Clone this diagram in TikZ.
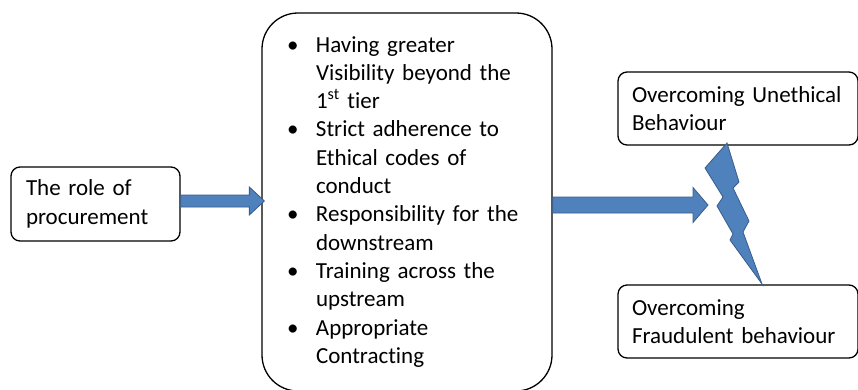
\documentclass[tikz,border=0pt]{standalone}
\usepackage{fontspec}
\setmainfont{Carlito}[Ligatures=NoCommon]
\usetikzlibrary{calc}
\definecolor{boxblue}{HTML}{4F81BD}
\definecolor{edgeblue}{HTML}{385D8A}

\begin{document}
\begin{tikzpicture}[x=1pt,y=-1pt,
  box/.style={draw, line width=1.3pt, rounded corners=9pt, align=left,
    font=\fontsize{23}{28.3}\selectfont},
  blockarrow/.style={fill=boxblue, draw=edgeblue, line width=0.8pt}]
\useasboundingbox (0,0) rectangle (858,389);
\clip (0,0) rectangle (858,389);

% Boxes
\node[box, minimum width=169pt, minimum height=74pt, text width=139pt, inner xsep=15pt] (role) at (95.5,204) {The role of\\procurement};
\node[box, rounded corners=36pt, minimum width=290pt, minimum height=378pt, text width=240pt, inner xsep=25pt] (list) at (407,202) {%
  \begin{tabular}{@{}p{29pt}@{}l@{}}
  \textbullet & Having greater\\
   & Visibility beyond the\\
   & 1\textsuperscript{st} tier\\
  \textbullet & Strict adherence to\\
   & Ethical codes of\\
   & conduct\\
  \textbullet & Responsibility for the\\
   & downstream\\
  \textbullet & Training across the\\
   & upstream\\
  \textbullet & Appropriate\\
   & Contracting
  \end{tabular}};
\node[box, minimum width=240pt, minimum height=73pt, text width=212pt, inner xsep=14pt] (unethical) at (738,108.5) {Overcoming Unethical\\Behaviour};
\node[box, minimum width=240pt, minimum height=73pt, text width=212pt, inner xsep=14pt] (fraud) at (738,321.5) {Overcoming\\Fraudulent behaviour};

% Block arrows
\coordinate (tipA) at ($(list.west |- role.east)+(3,-3)$);
\draw[blockarrow] ($(role.east)+(0,-9)$) -- ($(tipA)+(-15,-6)$) -- ($(tipA)+(-15,-14)$) -- (tipA)
  -- ($(tipA)+(-15,14)$) -- ($(tipA)+(-15,6)$) -- ($(role.east)+(0,3)$) -- cycle;
\coordinate (hit) at (708,205);
\draw[blockarrow] ($(list.east |- hit)+(0,-8)$) -- ($(hit)+(-15,-8)$) -- ($(hit)+(-15,-17.5)$) -- (hit)
  -- ($(hit)+(-15,17.5)$) -- ($(hit)+(-15,8)$) -- ($(list.east |- hit)+(0,8)$) -- cycle;

% Lightning between the outcomes
\draw[blockarrow, line join=miter] (727,143) -- (705,168) -- (723,197) -- (717,206) -- (733,234) -- (730,240)
  -- (762,284) -- (743,232) -- (749,221) -- (733,188) -- (739,182) -- cycle;
\end{tikzpicture}
\end{document}
